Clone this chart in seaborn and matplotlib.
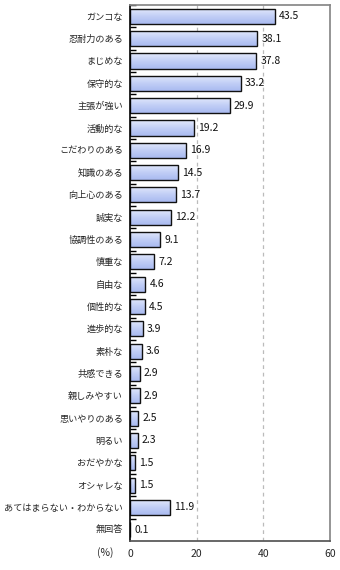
import numpy as np
import pandas as pd
import matplotlib
matplotlib.use('Agg')
import matplotlib.pyplot as plt
import seaborn as sns

sns.set_theme(style='white')
plt.rcParams['font.family'] = ['Noto Sans CJK JP', 'DejaVu Sans']

categories = ['ガンコな', '忍耐力のある', 'まじめな', '保守的な', '主張が強い', '活動的な',
              'こだわりのある', '知識のある', '向上心のある', '誠実な', '協調性のある', '慎重な',
              '自由な', '個性的な', '進歩的な', '素朴な', '共感できる', '親しみやすい',
              '思いやりのある', '明るい', 'おだやかな', 'オシャレな',
              'あてはまらない・わからない', '無回答']
values = [43.5, 38.1, 37.8, 33.2, 29.9, 19.2, 16.9, 14.5, 13.7, 12.2, 9.1, 7.2,
          4.6, 4.5, 3.9, 3.6, 2.9, 2.9, 2.5, 2.3, 1.5, 1.5, 11.9, 0.1]
x_ticks = [0, 20, 40, 60]

df = pd.DataFrame({'label': categories, 'pct': values})

fig = plt.figure(figsize=(3.4, 5.7), dpi=100)
ax = fig.add_axes([0.382, 0.051, 0.589, 0.940])

sns.barplot(data=df, x='pct', y='label', ax=ax, color='#c4d0f6',
            edgecolor='#111111', linewidth=1.0, width=0.68, saturation=1)

# vertical gradient inside each bar
grad = np.linspace(0, 1, 64).reshape(-1, 1)
cmap = matplotlib.colors.LinearSegmentedColormap.from_list(
    'bar', ['#e4eafc', '#c2cff6', '#a9baf0'])
for bar in ax.patches:
    x0, y0 = bar.get_x(), bar.get_y()
    w, h = bar.get_width(), bar.get_height()
    im = ax.imshow(grad, cmap=cmap, aspect='auto', extent=[x0, x0 + w, y0 + h, y0],
                   zorder=1.5, interpolation='bicubic')
    im.set_clip_path(bar)
    bar.set_facecolor('none')
    bar.set_zorder(2)

for bar, v in zip(ax.patches, values):
    ax.annotate(f'{v:.1f}', (bar.get_width(), bar.get_y() + bar.get_height() / 2),
                xytext=(3, 0), textcoords='offset points', ha='left', va='center',
                fontsize=7.5, color='#111111', zorder=3)

ax.set_xlim(0, 60)
ax.set_ylim(len(categories) - 0.5, -0.5)
ax.set_xticks(x_ticks)
ax.set_xticklabels([str(t) for t in x_ticks], fontsize=7.5)
ax.tick_params(axis='x', length=0, pad=6)
ax.tick_params(axis='y', length=0, pad=5, labelsize=6.6)
ax.set_yticks(range(len(categories)))
ax.set_yticklabels(categories)
ax.set_yticks(np.arange(len(categories)) - 0.5, minor=True)
ax.tick_params(axis='y', which='minor', direction='in', length=4, width=1, color='black', left=True)
ax.set_xlabel('')
ax.set_ylabel('')

for t in [20, 40]:
    ax.axvline(t, color='#bbbbbb', linestyle=(0, (3, 3)), linewidth=0.9, zorder=0.5)

ax.spines['left'].set_color('black')
ax.spines['left'].set_linewidth(1.2)
ax.spines['bottom'].set_color('#555555')
ax.spines['top'].set_color('#888888')
ax.spines['right'].set_color('#888888')
for s in ax.spines.values():
    s.set_visible(True)

fig.text(105 / 340, 1 - 553 / 570, '(%)', fontsize=7.5, ha='center', va='center')

fig.savefig('out.png', dpi=100, facecolor='white')
